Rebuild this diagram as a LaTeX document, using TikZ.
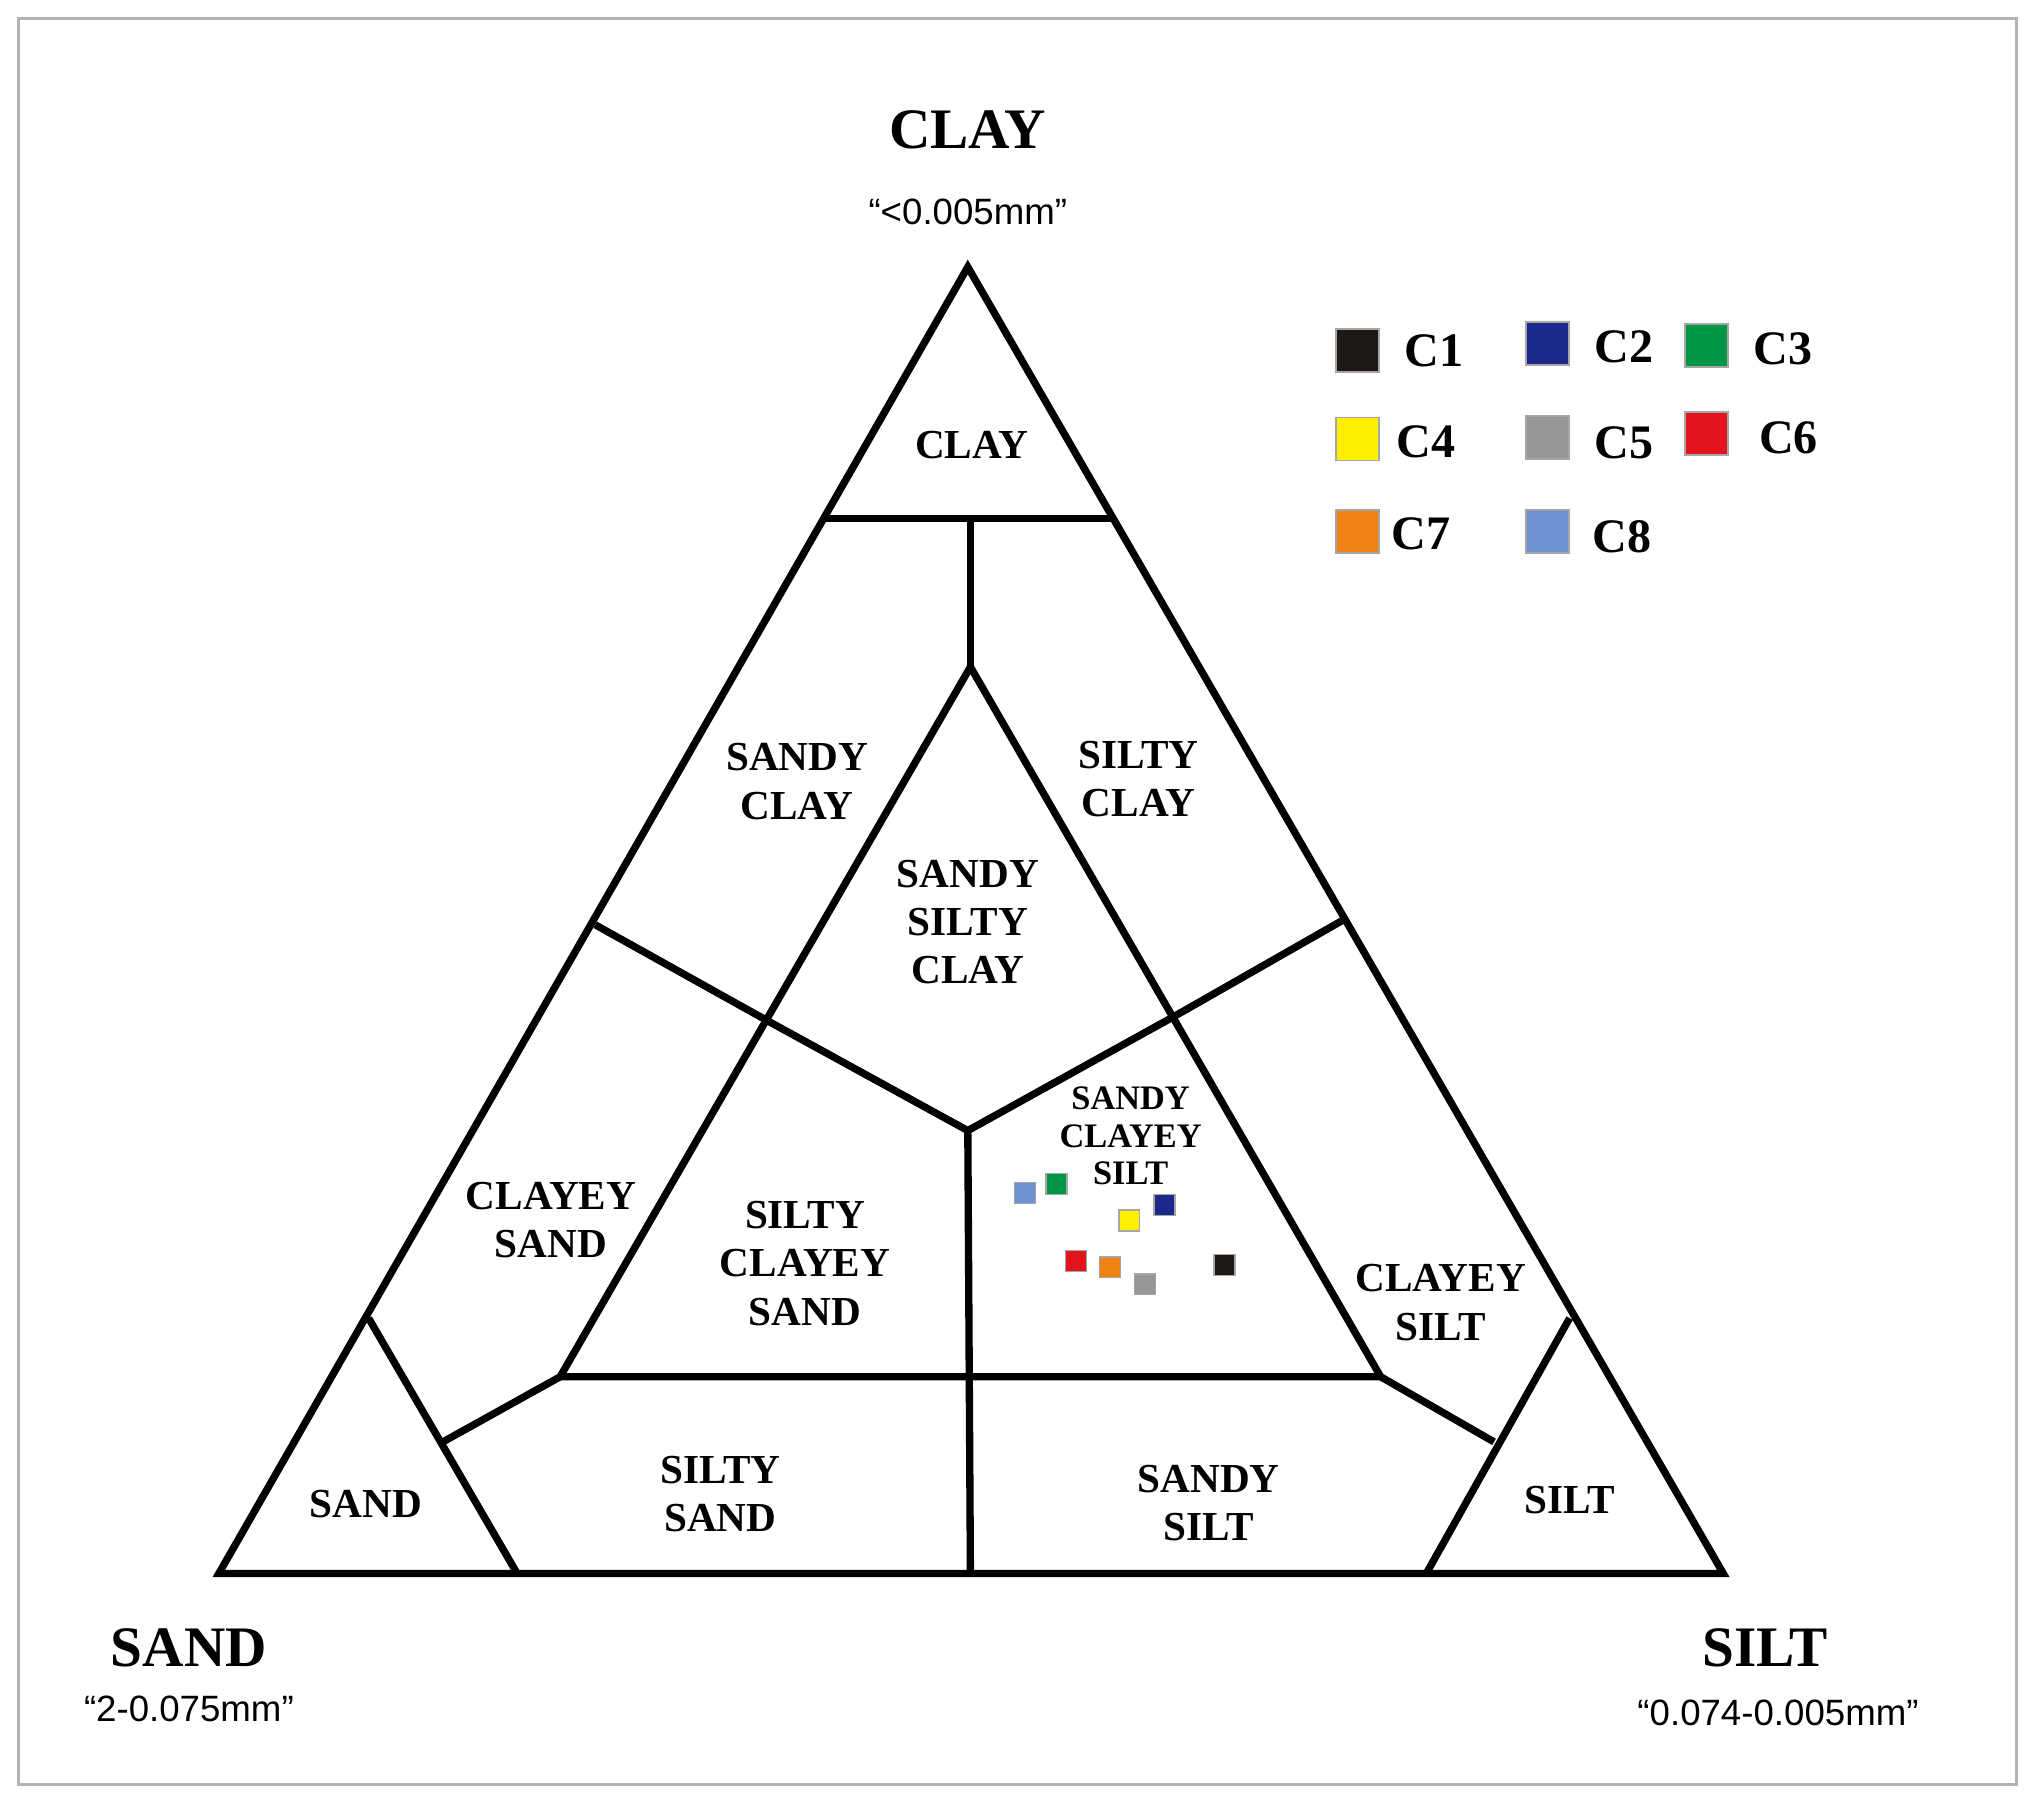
\documentclass[tikz,border=0pt]{standalone}
\usepackage{fontspec}
\setmainfont{Liberation Serif}
\newfontfamily\sansf{Liberation Sans}
\definecolor{cone}{RGB}{30,25,22}
\definecolor{ctwo}{RGB}{28,40,140}
\definecolor{cthree}{RGB}{0,150,70}
\definecolor{cfour}{RGB}{255,240,0}
\definecolor{cfive}{RGB}{150,150,150}
\definecolor{csix}{RGB}{228,20,30}
\definecolor{cseven}{RGB}{240,130,20}
\definecolor{ceight}{RGB}{110,145,210}
\tikzset{
  zone/.style={font=\bfseries\fontsize{9}{10.5}\selectfont,align=center},
  corner/.style={font=\bfseries\fontsize{12.5}{14}\selectfont},
  size/.style={font=\sansf\fontsize{8}{9}\selectfont},
  leg/.style={font=\bfseries\fontsize{10.5}{12}\selectfont,anchor=west},
  box/.style={draw=gray!70,line width=0.4pt,minimum size=0.33cm,inner sep=0pt},
  dot/.style={draw=gray!70,line width=0.3pt,minimum size=0.16cm,inner sep=0pt}
}
\begin{document}
\begin{tikzpicture}[x=0.01cm,y=-0.01cm]
  \useasboundingbox (0,0) rectangle (1560,1380);
  \draw[gray!60,line width=0.6pt] (14,14) rectangle (1548,1370);
  % corners of the triangle
  \coordinate (top) at (743,205);
  \coordinate (lft) at (168,1208);
  \coordinate (rgt) at (1323,1208);
  % inner triangle
  \coordinate (itop) at (745,512);
  \coordinate (ilft) at (430,1057);
  \coordinate (irgt) at (1060,1057);
  \coordinate (ctr) at (743,868);
  \begin{scope}[line width=1.6pt,line join=miter]
    \draw (top) -- (lft) -- (rgt) -- cycle;
    \draw (itop) -- (ilft) -- (irgt) -- cycle;
    \draw (633,398) -- (855,398);
    \draw (745,398) -- (itop);
    \draw (457,710) -- (588,783) -- (ctr) -- (902,780) -- (1030,707);
    \draw (ctr) -- (745,1208);
    \draw (ilft) -- (340,1107);
    \draw (irgt) -- (1147,1107);
    \draw (283,1012) -- (397,1208);
    \draw (1205,1012) -- (1095,1208);
  \end{scope}
  % corner labels
  \node[corner] (nclay) at (743,100) {CLAY};
  \node[size] (sclay) at (743,163) {“<0.005mm”};
  \node[corner] (nsand) at (145,1265) {SAND};
  \node[size] (ssand) at (145,1312) {“2-0.075mm”};
  \node[corner] (nsilt) at (1355,1265) {SILT};
  \node[size] (ssilt) at (1365,1315) {“0.074-0.005mm”};
  % zones
  \node[zone] (zclay) at (746,342) {CLAY};
  \node[zone] (zsc) at (612,600) {SANDY\\CLAY};
  \node[zone] (zsic) at (874,598) {SILTY\\CLAY};
  \node[zone] (zssc) at (743,708) {SANDY\\SILTY\\CLAY};
  \node[zone] (zcs) at (423,937) {CLAYEY\\SAND};
  \node[zone] (zscs) at (618,970) {SILTY\\CLAYEY\\SAND};
  \node[zone,font=\bfseries\fontsize{7.5}{8.2}\selectfont] (zscsi) at (868,872) {SANDY\\CLAYEY\\SILT};
  \node[zone] (zcsi) at (1106,1000) {CLAYEY\\SILT};
  \node[zone] (zsand) at (281,1155) {SAND};
  \node[zone] (zsis) at (553,1147) {SILTY\\SAND};
  \node[zone] (zsasi) at (928,1154) {SANDY\\SILT};
  \node[zone] (zsilt) at (1205,1152) {SILT};
  % legend
  \node[box,fill=cone] (b1) at (1042,269) {};
  \node[leg] (l1) at (1066,269) {C1};
  \node[box,fill=ctwo] (b2) at (1188,264) {};
  \node[leg] (l2) at (1212,266) {C2};
  \node[box,fill=cthree] (b3) at (1310,265) {};
  \node[leg] (l3) at (1334,268) {C3};
  \node[box,fill=cfour] (b4) at (1042,337) {};
  \node[leg] (l4) at (1060,339) {C4};
  \node[box,fill=cfive] (b5) at (1188,336) {};
  \node[leg] (l5) at (1212,340) {C5};
  \node[box,fill=csix] (b6) at (1310,333) {};
  \node[leg] (l6) at (1338,336) {C6};
  \node[box,fill=cseven] (b7) at (1042,408) {};
  \node[leg] (l7) at (1056,410) {C7};
  \node[box,fill=ceight] (b8) at (1188,408) {};
  \node[leg] (l8) at (1210,412) {C8};
  % samples
  \node[dot,fill=ceight] (p8) at (787,916) {};
  \node[dot,fill=cthree] (p3) at (811,909) {};
  \node[dot,fill=ctwo] (p2) at (894,925) {};
  \node[dot,fill=cfour] (p4) at (867,937) {};
  \node[dot,fill=csix] (p6) at (826,968) {};
  \node[dot,fill=cseven] (p7) at (852,973) {};
  \node[dot,fill=cfive] (p5) at (879,986) {};
  \node[dot,fill=cone] (p1) at (940,971) {};
\end{tikzpicture}
\end{document}
